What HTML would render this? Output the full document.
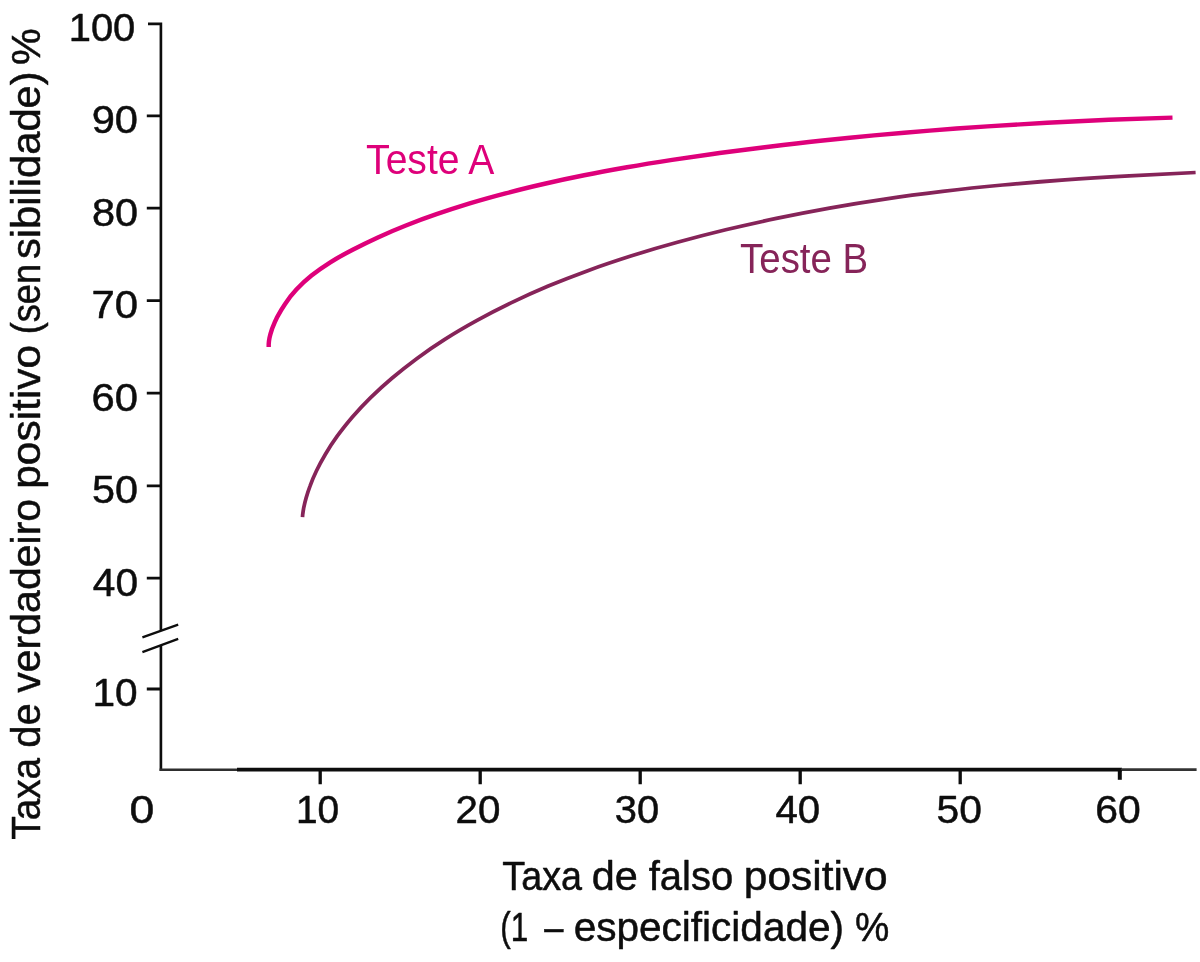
<!DOCTYPE html>
<html lang="pt">
<head>
<meta charset="utf-8">
<title>Curva ROC – Teste A e Teste B</title>
<style>
html,body{margin:0;padding:0;background:#fff;}
body{width:1200px;height:962px;overflow:hidden;}
svg{display:block;}
text{font-family:"Liberation Sans",sans-serif;fill:#0d0d0d;stroke:#0d0d0d;stroke-width:0.5px;stroke-linejoin:round;}
</style>
</head>
<body>
<svg width="1200" height="962" viewBox="0 0 1200 962">
<rect width="1200" height="962" fill="#fff"/>
<g stroke="#0d0d0d" stroke-width="2.65" fill="none">
<path d="M148 23.9H160.9V630.5"/>
<path d="M160.9 645.5V770.9"/>
<path d="M146.8 115.9H161M146.8 208.2H161M146.8 300.7H161M146.8 393.2H161M146.8 485.8H161M146.8 578.1H161M146.8 689.0H161" stroke-width="2.8"/>
<path d="M159.6 769.7H238" stroke-width="2.5" stroke="#2e2e2e"/>
<path d="M237 769.7H1122" stroke-width="3.8"/>
<path d="M1121 769.6H1196.6" stroke-width="2.8" stroke="#333"/>
<path d="M320.2 770V784.3M480.2 770V784.3M640.2 770V784.3M800.2 770V784.3M960.2 770V784.3" stroke-width="3.3"/>
<path d="M1119.8 770V779.8" stroke-width="4"/>
<path d="M142.4 637.4L178.2 624.7M142.4 652.1L178.2 638.9" stroke-width="2.3"/>
</g>
<path fill="none" stroke="#de007a" stroke-width="4.45" transform="translate(0 0.6)" d="M268.7 346.3C268.7 345.4 268.7 344.5 268.7 343.6C268.8 341.5 269.1 339.3 269.5 337.3C270.1 334.2 271.1 331.2 272.1 328.2C273.6 324.3 275.2 320.4 277.1 316.7C279.5 312.1 282.1 307.6 285.1 303.3C288.5 298.2 292.3 293.4 296.4 289.0C301.1 284.0 306.1 279.3 311.5 275.0C317.4 270.2 323.8 265.8 330.3 261.7C337.6 257.2 345.1 253.0 352.7 249.1C361.0 244.8 369.4 240.7 377.9 236.8C387.2 232.6 396.5 228.6 405.9 224.9C416.0 220.9 426.2 217.1 436.5 213.6C447.5 209.8 458.6 206.2 469.7 202.8C481.6 199.3 493.5 195.9 505.5 192.8C518.1 189.4 530.9 186.3 543.6 183.4C557.1 180.3 570.6 177.4 584.2 174.7C598.4 171.8 612.7 169.2 627.0 166.7C642.1 164.0 657.1 161.6 672.2 159.3C687.9 156.9 703.7 154.6 719.5 152.4C735.9 150.2 752.4 148.1 768.9 146.1C786.1 144.0 803.2 142.0 820.4 140.2C838.3 138.3 856.1 136.5 874.0 134.8C892.6 133.1 911.1 131.5 929.7 130.0C948.9 128.5 968.2 127.1 987.4 125.8C1007.3 124.4 1027.2 123.2 1047.1 122.1C1067.7 121.0 1088.3 120.0 1108.8 119.2C1130.1 118.3 1151.3 117.6 1172.5 117.0"/>
<path fill="none" stroke="#862459" stroke-width="3.75" transform="translate(0 0.6)" d="M302.5 516.5C302.6 515.6 302.6 514.7 302.7 513.8C303.0 511.6 303.3 509.4 303.7 507.2C304.4 504.0 305.2 500.7 306.1 497.5C307.3 493.3 308.6 489.1 310.2 485.0C312.0 480.0 314.2 475.0 316.5 470.2C319.2 464.5 322.2 459.0 325.4 453.6C329.0 447.4 333.0 441.4 337.2 435.6C341.9 429.0 347.0 422.7 352.2 416.6C358.1 409.9 364.2 403.4 370.6 397.1C377.5 390.3 384.7 383.7 392.2 377.4C400.2 370.6 408.5 364.1 417.0 357.8C426.2 351.1 435.6 344.7 445.2 338.6C455.4 332.1 465.9 326.0 476.6 320.1C487.9 313.8 499.3 307.9 511.0 302.3C523.3 296.4 535.7 290.8 548.3 285.5C561.6 279.9 575.0 274.7 588.5 269.8C602.8 264.6 617.2 259.8 631.6 255.2C646.8 250.4 662.0 245.9 677.4 241.7C693.4 237.3 709.5 233.1 725.7 229.2C742.5 225.2 759.4 221.4 776.4 217.8C794.0 214.1 811.7 210.7 829.5 207.5C847.9 204.2 866.4 201.2 884.9 198.5C904.1 195.6 923.4 193.1 942.7 190.8C962.7 188.4 982.7 186.3 1002.7 184.4C1023.4 182.5 1044.2 180.8 1064.9 179.3C1086.3 177.7 1107.8 176.4 1129.2 175.2C1151.4 174.0 1173.5 172.9 1195.6 171.9"/>
<g style="stroke-width:0.2px">
<text x="68.7" y="41.2" font-size="39.1" textLength="66.6" lengthAdjust="spacingAndGlyphs">100</text>
<text x="91.7" y="133.3" font-size="39.1" textLength="46.3" lengthAdjust="spacingAndGlyphs">90</text>
<text x="91.9" y="225.6" font-size="39.1" textLength="46.1" lengthAdjust="spacingAndGlyphs">80</text>
<text x="91.5" y="318.1" font-size="39.1" textLength="46.6" lengthAdjust="spacingAndGlyphs">70</text>
<text x="91.6" y="410.6" font-size="39.1" textLength="46.5" lengthAdjust="spacingAndGlyphs">60</text>
<text x="92.0" y="503.2" font-size="39.1" textLength="46.0" lengthAdjust="spacingAndGlyphs">50</text>
<text x="92.8" y="595.5" font-size="39.1" textLength="45.2" lengthAdjust="spacingAndGlyphs">40</text>
<text x="92.5" y="705.8" font-size="39.1" textLength="45.2" lengthAdjust="spacingAndGlyphs">10</text>
</g>
<g style="stroke-width:0.2px">
<text x="129.5" y="823.3" font-size="39.1" textLength="24.8" lengthAdjust="spacingAndGlyphs">0</text>
<text x="295.9" y="823.3" font-size="39.1" textLength="43.2" lengthAdjust="spacingAndGlyphs">10</text>
<text x="455.5" y="823.3" font-size="39.1" textLength="44.9" lengthAdjust="spacingAndGlyphs">20</text>
<text x="614.8" y="823.3" font-size="39.1" textLength="44.3" lengthAdjust="spacingAndGlyphs">30</text>
<text x="775.5" y="823.3" font-size="39.1" textLength="44.7" lengthAdjust="spacingAndGlyphs">40</text>
<text x="936.6" y="823.3" font-size="39.1" textLength="45.4" lengthAdjust="spacingAndGlyphs">50</text>
<text x="1095.2" y="823.3" font-size="39.1" textLength="45.5" lengthAdjust="spacingAndGlyphs">60</text>
</g>
<text y="889.5" font-size="41.5"><tspan x="502.3" textLength="79.7" lengthAdjust="spacingAndGlyphs">Taxa</tspan> <tspan x="591.8" textLength="46.1" lengthAdjust="spacingAndGlyphs">de</tspan> <tspan x="648.7" textLength="84.5" lengthAdjust="spacingAndGlyphs">falso</tspan> <tspan x="743.8" textLength="143.9" lengthAdjust="spacingAndGlyphs">positivo</tspan></text>
<text y="941.1" font-size="41.5"><tspan x="500.3" textLength="28.0" lengthAdjust="spacingAndGlyphs">(1</tspan> <tspan x="544.3" textLength="19.2" lengthAdjust="spacingAndGlyphs">–</tspan> <tspan x="573.7" textLength="270.3" lengthAdjust="spacingAndGlyphs">especificidade)</tspan> <tspan x="855.0" textLength="34.3" lengthAdjust="spacingAndGlyphs">%</tspan></text>
<text transform="translate(40 838.8) rotate(-90)" font-size="41.5" y="0"><tspan x="-0.9" textLength="81.7" lengthAdjust="spacingAndGlyphs">Taxa</tspan> <tspan x="91.1" textLength="44.4" lengthAdjust="spacingAndGlyphs">de</tspan> <tspan x="146.0" textLength="194.0" lengthAdjust="spacingAndGlyphs">verdadeiro</tspan> <tspan x="350.0" textLength="144.0" lengthAdjust="spacingAndGlyphs">positivo</tspan> <tspan x="504.5" textLength="70.3" lengthAdjust="spacingAndGlyphs">(sen</tspan><tspan x="579.7" textLength="187.8" lengthAdjust="spacingAndGlyphs">sibilidade)</tspan> <tspan x="773.8" textLength="36.7" lengthAdjust="spacingAndGlyphs">%</tspan></text>
<text x="366.1" y="173.6" font-size="42.2" textLength="128.2" lengthAdjust="spacingAndGlyphs" style="fill:#de007a;stroke:none">Teste A</text>
<text x="740.1" y="273.4" font-size="42.2" textLength="128.1" lengthAdjust="spacingAndGlyphs" style="fill:#862459;stroke:none">Teste B</text>
</svg>
</body>
</html>
